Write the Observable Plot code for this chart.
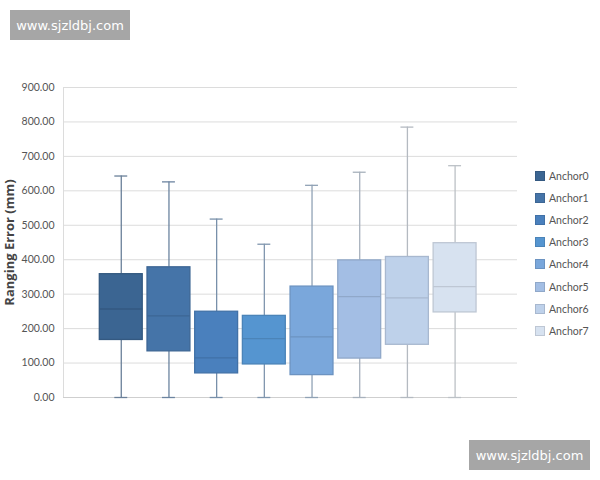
<!DOCTYPE html>
<html>
<head>
<meta charset="utf-8">
<script src="https://cdn.jsdelivr.net/npm/d3@7"></script>
<script src="https://cdn.jsdelivr.net/npm/@observablehq/plot@0.6"></script>
<style>
  body { margin: 0; background: #fff; }
  #wrap { position: relative; width: 600px; height: 480px; overflow: hidden; font-family: Lato, "Open Sans", sans-serif; }
  #chart { position: absolute; left: 0; top: 0; }
  .wm { position: absolute; background: #a6a6a6; color: #fff; font-family: "DejaVu Sans", sans-serif; font-size: 13px; display: flex; align-items: center; justify-content: center; }
  #legend { position: absolute; left: 535px; top: 165px; }
  .li { display: flex; align-items: center; height: 22.1px; font-size: 10.5px; color: #555; }
  .sw { width: 10px; height: 10px; margin-right: 4px; box-sizing: border-box; }
</style>
</head>
<body>
<div id="wrap">
  <div id="chart"></div>
  <div class="wm" style="left:10px;top:10px;width:120px;height:30px;">www.sjzldbj.com</div>
  <div class="wm" style="left:469px;top:440px;width:121px;height:30px;">www.sjzldbj.com</div>
  <div id="legend"></div>
</div>
<script>
const names = ["Anchor0","Anchor1","Anchor2","Anchor3","Anchor4","Anchor5","Anchor6","Anchor7"];
const mins    = [0, 0, 0, 0, 0, 0, 0, 0];
const q1s     = [167, 134, 70, 96, 65, 113, 153, 247];
const medians = [257, 237, 115, 171, 176, 293, 289, 322];
const q3s     = [358, 378, 249, 237, 322, 398, 408, 448];
const maxs    = [643, 626, 518, 445, 616, 654, 785, 673];
const colors  = ["#3b6592","#4574a8","#4a80bd","#5595d0","#7aa7db","#a3bee4","#bed1ea","#d7e2f0"];
const whiskerColors = ["#6a8099","#6c84a0","#7890aa","#8096ae","#90a2b5","#a7b1bc","#b4bac1","#bcc1c6"];
const yTicks = [0,100,200,300,400,500,600,700,800,900];

const data = names.map((n, i) => ({
  name: n, min: mins[i], q1: q1s[i], med: medians[i], q3: q3s[i], max: maxs[i],
  color: colors[i], stroke: d3.color(colors[i]).darker(0.35).formatHex(), wc: whiskerColors[i]
}));

const plot = Plot.plot({
  width: 600,
  height: 480,
  marginLeft: 63,
  marginRight: 83,
  marginTop: 87,
  marginBottom: 83,
  style: { fontFamily: "Lato, 'Open Sans', sans-serif", fontSize: "10.5px", color: "#555", background: "transparent" },
  x: { domain: names, paddingInner: 0.1, paddingOuter: 0.81, align: 0.47, round: false, axis: null },
  y: { domain: [0, 900], ticks: yTicks },
  marks: [
    Plot.gridY(yTicks, { stroke: "#dcdcdc", strokeOpacity: 1 }),
    Plot.axisY(yTicks, { tickSize: 0, tickPadding: 9, tickFormat: d => d.toFixed(2), label: null, fill: "#555" }),
    Plot.frame({ anchor: "left", stroke: "#dcdcdc" }),
    Plot.ruleY([0], { stroke: "#cfcfcf" }),
    Plot.ruleX(data, { x: "name", y1: "q3", y2: "max", stroke: d => d.wc, strokeWidth: 1.3 }),
    Plot.ruleX(data, { x: "name", y1: "min", y2: "q1", stroke: d => d.wc, strokeWidth: 1.3 }),
    Plot.tickY(data, { x: "name", y: "max", stroke: d => d.wc, strokeWidth: 1.3, insetLeft: 15, insetRight: 15 }),
    Plot.tickY(data, { x: "name", y: "min", stroke: d => d.wc, strokeWidth: 1.3, insetLeft: 15, insetRight: 15 }),
    Plot.barY(data, { x: "name", y1: "q1", y2: "q3", fill: d => d.color, stroke: d => d.stroke, strokeWidth: 1.3 }),
    Plot.tickY(data, { x: "name", y: "med", stroke: d => d.stroke, strokeWidth: 1.3 }),
    Plot.text(["Ranging Error (mm)"], { frameAnchor: "left", textAnchor: "middle", dx: -54, rotate: -90, fontSize: 13, fontWeight: "bold", fontFamily: "'Open Sans', sans-serif", fill: "#444" })
  ]
});
document.getElementById("chart").appendChild(plot);

const legend = document.getElementById("legend");
names.forEach((n, i) => {
  const row = document.createElement("div");
  row.className = "li";
  const sw = document.createElement("div");
  sw.className = "sw";
  sw.style.background = colors[i];
  sw.style.border = "1px solid " + d3.color(colors[i]).darker(0.35).formatHex();
  const t = document.createElement("span");
  t.textContent = n;
  row.appendChild(sw);
  row.appendChild(t);
  legend.appendChild(row);
});
</script>
</body>
</html>
